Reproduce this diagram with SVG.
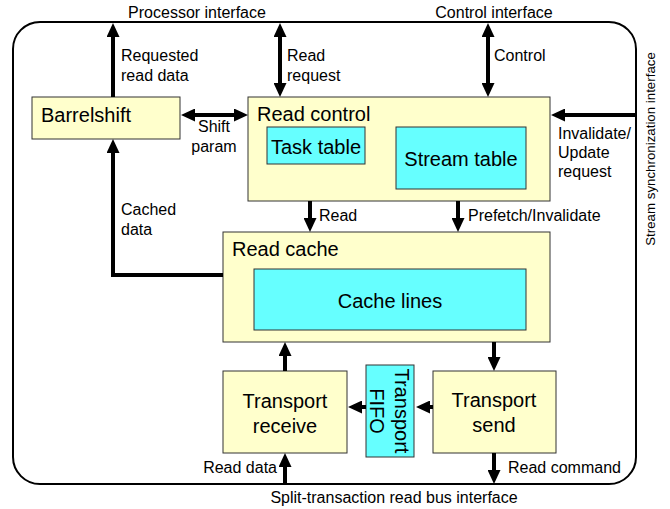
<svg xmlns="http://www.w3.org/2000/svg" width="670" height="509" viewBox="0 0 670 509">
<defs>
<marker id="ah" viewBox="0 0 14 13" markerWidth="14" markerHeight="13" refX="2" refY="6.5" orient="auto-start-reverse" markerUnits="userSpaceOnUse">
<path d="M0,0 L14,6.5 L0,13 z" fill="#000"/>
</marker>
<style>
.box{fill:#FFFFCC;stroke:#333;stroke-width:1}
.sub{fill:#66FFFF;stroke:#333;stroke-width:1}
.t{font-family:"Liberation Sans",Arial,sans-serif;font-size:20px;fill:#000}
.l{font-family:"Liberation Sans",Arial,sans-serif;font-size:16px;fill:#000}
.c{text-anchor:middle}
.w{fill:none;stroke:#000;stroke-width:4}
.a{marker-end:url(#ah)}
.b{marker-start:url(#ah);marker-end:url(#ah)}
</style>
</defs>
<rect x="13" y="22" width="623" height="462" rx="27" ry="27" fill="none" stroke="#000" stroke-width="2"/>
<text class="l c" x="197" y="18">Processor interface</text>
<text class="l c" x="494" y="18">Control interface</text>
<text class="l c" style="font-size:13.3px" transform="translate(655,149) rotate(-90)">Stream synchronization interface</text>
<text class="l c" x="394" y="503">Split-transaction read bus interface</text>

<g id="barrelshift">
<rect class="box" x="32" y="97" width="148" height="42"/>
<text class="t" x="41" y="122">Barrelshift</text>
</g>
<g id="read-control">
<rect class="box" x="248" y="97" width="302" height="104"/>
<text class="t" x="257" y="121">Read control</text>
</g>
<g id="task-table">
<rect class="sub" x="267" y="127" width="98" height="37"/>
<text class="t c" x="316" y="154">Task table</text>
</g>
<g id="stream-table">
<rect class="sub" x="396" y="127" width="130" height="62"/>
<text class="t c" x="461" y="166">Stream table</text>
</g>
<g id="read-cache">
<rect class="box" x="223" y="232" width="327" height="110"/>
<text class="t" x="232" y="256">Read cache</text>
</g>
<g id="cache-lines">
<rect class="sub" x="254" y="269" width="272" height="61"/>
<text class="t c" x="390" y="308">Cache lines</text>
</g>
<g id="transport-receive">
<rect class="box" x="223" y="371" width="124" height="82"/>
<text class="t c" x="285" y="408">Transport</text>
<text class="t c" x="285" y="433">receive</text>
</g>
<g id="transport-fifo">
<rect class="sub" x="366" y="365" width="48" height="92"/>
<text class="t c" transform="translate(395,411) rotate(90)">Transport</text>
<text class="t c" transform="translate(370,411) rotate(90)">FIFO</text>
</g>
<g id="transport-send">
<rect class="box" x="433" y="371" width="123" height="82"/>
<text class="t c" x="494" y="407">Transport</text>
<text class="t c" x="494" y="432">send</text>
</g>

<g id="connectors">
<line class="w a" x1="113" y1="97" x2="113" y2="35"/>
<line class="w b" x1="280" y1="35" x2="280" y2="85"/>
<line class="w b" x1="488" y1="35" x2="488" y2="85"/>
<line class="w b" x1="193" y1="115" x2="236" y2="115"/>
<line class="w a" x1="636" y1="115" x2="563" y2="115"/>
<polyline class="w a" points="223,275 113,275 113,151"/>
<line class="w a" x1="310" y1="201" x2="310" y2="220"/>
<line class="w a" x1="458" y1="201" x2="458" y2="220"/>
<line class="w a" x1="494" y1="342" x2="494" y2="359"/>
<line class="w a" x1="285" y1="371" x2="285" y2="354"/>
<line class="w a" x1="433" y1="407" x2="428" y2="407"/>
<line class="w a" x1="366" y1="407" x2="360" y2="407"/>
<line class="w a" x1="285" y1="484" x2="285" y2="465"/>
<line class="w a" x1="494" y1="453" x2="494" y2="472"/>
</g>

<text class="l" x="121" y="61">Requested</text>
<text class="l" x="121" y="81">read data</text>
<text class="l" x="287" y="61">Read</text>
<text class="l" x="287" y="81">request</text>
<text class="l" x="494" y="61">Control</text>
<text class="l c" x="214" y="132">Shift</text>
<text class="l c" x="214" y="152">param</text>
<text class="l" x="558" y="139">Invalidate/</text>
<text class="l" x="558" y="158">Update</text>
<text class="l" x="558" y="177">request</text>
<text class="l" x="121" y="215">Cached</text>
<text class="l" x="121" y="235">data</text>
<text class="l" x="319" y="221">Read</text>
<text class="l" x="468" y="221">Prefetch/Invalidate</text>
<text class="l" x="277" y="473" text-anchor="end">Read data</text>
<text class="l" x="508" y="473">Read command</text>
</svg>
